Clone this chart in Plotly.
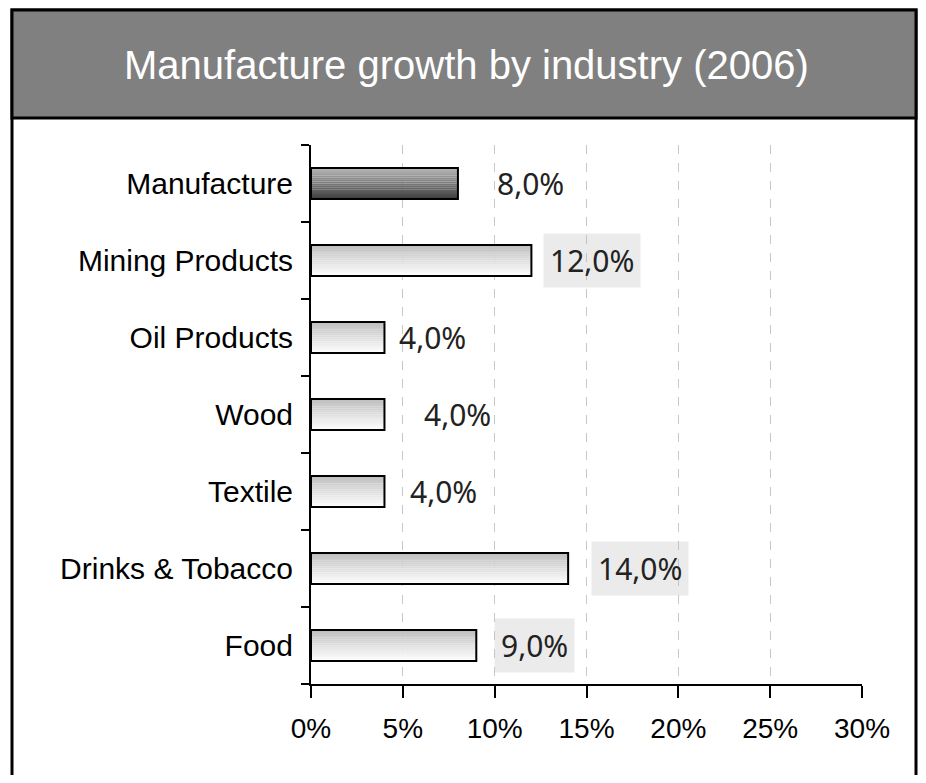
import plotly.graph_objects as go

# ---- data ----
categories = ["Food", "Drinks & Tobacco", "Textile", "Wood", "Oil Products",
              "Mining Products", "Manufacture"]
growth = [9.0, 14.0, 4.0, 4.0, 4.0, 12.0, 8.0]
label_text = ["9,0%", "14,0%", "4,0%", "4,0%", "4,0%", "12,0%", "8,0%"]
x_ticks = [0, 5, 10, 15, 20, 25, 30]
x_tick_labels = ["0%", "5%", "10%", "15%", "20%", "25%", "30%"]
title_text = "Manufacture growth by industry (2006)"

# ---- styles ----
OFF = 8                                   # page body margin in the browser
W, H = 926 - 2 * OFF, 783 - 2 * OFF
L, R, T, B = 311 - OFF, 862 - OFF, 145 - OFF, 684 - OFF   # plot area (figure px)
label_shift = [18, 23, 19, 33, 8, 12, 32]  # px gap from bar end
label_boxed = [True, True, False, False, False, True, False]
highlight = "Manufacture"
FONT = "Liberation Sans"
LABEL_FONT = "Noto Sans"

def px2x(px):
    return (px - OFF - L) / (R - L)

def px2y(py):
    return (B - (py - OFF)) / (B - T)

def lerp(c1, c2, t):
    return "rgb(%d,%d,%d)" % tuple(round(a + (b - a) * t) for a, b in zip(c1, c2))

fig = go.Figure()

bar_w = 0.4
n_strips = 16
sw = bar_w / n_strips
light_top, light_bot = (190, 190, 190), (255, 255, 255)
dark_top, dark_bot = (185, 185, 185), (60, 60, 60)
for i in range(n_strips):
    t = (i + 0.5) / n_strips  # 0 bottom -> 1 top
    cols = []
    for c in categories:
        if c == highlight:
            cols.append(lerp(dark_bot, dark_top, t))
        else:
            cols.append(lerp(light_bot, light_top, t))
    fig.add_trace(go.Bar(
        y=categories, x=growth, orientation="h",
        width=sw * 1.05, offset=-bar_w / 2 + i * sw,
        marker=dict(color=cols, line=dict(width=0)),
        hoverinfo="skip", showlegend=False))

fig.add_trace(go.Bar(
    y=categories, x=growth, orientation="h", width=bar_w,
    marker=dict(color="rgba(0,0,0,0)", line=dict(color="black", width=2)),
    showlegend=False))

for c, v, txt, sh, boxed in zip(categories, growth, label_text, label_shift, label_boxed):
    fig.add_annotation(
        x=v, y=c, xref="x", yref="y", text=txt, showarrow=False,
        xanchor="left", xshift=sh,
        font=dict(family=LABEL_FONT, size=30, color="#222222"),
        bgcolor="rgba(190,190,190,0.3)" if boxed else "rgba(0,0,0,0)",
        borderpad=6)

# frame and title box
shapes = [
    dict(type="rect", xref="paper", yref="paper",
         x0=px2x(12), x1=px2x(916), y0=px2y(800), y1=px2y(10),
         line=dict(color="black", width=3), fillcolor="rgba(0,0,0,0)", layer="below"),
    dict(type="rect", xref="paper", yref="paper",
         x0=px2x(12), x1=px2x(916), y0=px2y(118), y1=px2y(10),
         line=dict(color="black", width=3), fillcolor="#808080", layer="below"),
]
fig.add_annotation(x=px2x(466), y=px2y(65), xref="paper", yref="paper",
                   text=title_text, showarrow=False, xanchor="center", yanchor="middle",
                   font=dict(family=FONT, size=40, color="white"))

fig.update_layout(
    width=W, height=H,
    margin=dict(l=L, r=W - R, t=T, b=H - B, pad=0),
    paper_bgcolor="white", plot_bgcolor="white",
    barmode="overlay", shapes=shapes,
    xaxis=dict(range=[0, 30], tickvals=x_ticks, ticktext=x_tick_labels,
               showgrid=True, gridcolor="#c8c8c8", griddash="dash", gridwidth=1,
               showline=True, linecolor="black", linewidth=2,
               ticks="outside", ticklen=12, tickwidth=2, tickcolor="black",
               ticklabelstandoff=6, zeroline=False,
               tickfont=dict(family=FONT, size=28, color="black"), fixedrange=True),
    yaxis=dict(categoryorder="array", categoryarray=categories,
               showline=True, linecolor="black", linewidth=2,
               ticks="outside", ticklen=8, tickwidth=2, tickcolor="black",
               tickson="boundaries", showgrid=False, ticklabelstandoff=10,
               tickfont=dict(family=FONT, size=30, color="black"), fixedrange=True),
)

fig.write_html("out.html")
